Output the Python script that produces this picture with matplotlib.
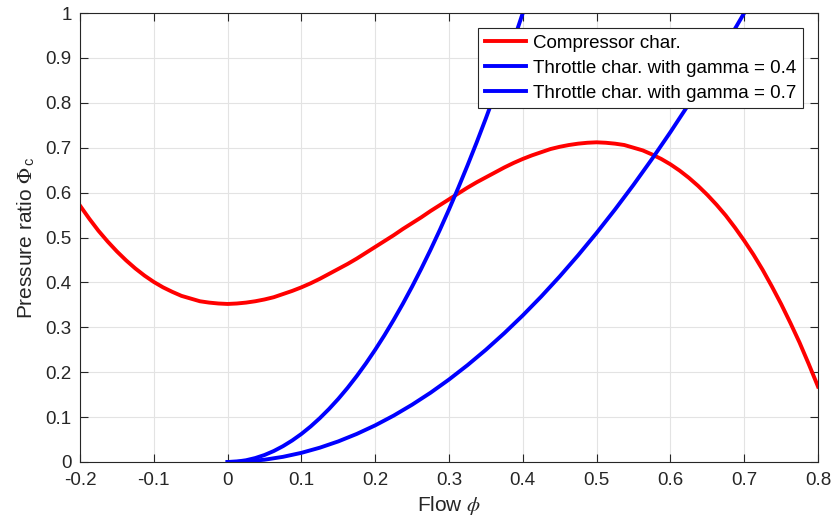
import matplotlib.pyplot as plt

plt.rcParams['font.family'] = ['Liberation Sans', 'DejaVu Sans']
plt.rcParams['mathtext.fontset'] = 'custom'
plt.rcParams['mathtext.rm'] = 'STIXGeneral'
plt.rcParams['mathtext.it'] = 'STIXGeneral:italic'
plt.rcParams['mathtext.bf'] = 'STIXGeneral:bold'
plt.rcParams['mathtext.sf'] = 'Liberation Sans'

# compressor characteristic
flow_c = [-0.2, -0.1875, -0.175, -0.1625, -0.15, -0.1375, -0.125, -0.1125,
          -0.1, -0.0875, -0.075, -0.0625, -0.05, -0.0375, -0.025, -0.0125,
          0.0, 0.0125, 0.025, 0.0375, 0.05, 0.0625, 0.075, 0.0875,
          0.1, 0.1125, 0.125, 0.1375, 0.15, 0.1625, 0.175, 0.1875,
          0.2, 0.2125, 0.225, 0.2375, 0.25, 0.2625, 0.275, 0.2875,
          0.3, 0.3125, 0.325, 0.3375, 0.35, 0.3625, 0.375, 0.3875,
          0.4, 0.4125, 0.425, 0.4375, 0.45, 0.4625, 0.475, 0.4875,
          0.5, 0.5125, 0.525, 0.5375, 0.55, 0.5625, 0.575, 0.5875,
          0.6, 0.6125, 0.625, 0.6375, 0.65, 0.6625, 0.675, 0.6875,
          0.7, 0.7125, 0.725, 0.7375, 0.75, 0.7625, 0.775, 0.7875, 0.8]
psi_c = [0.571, 0.542, 0.515, 0.491, 0.469, 0.449, 0.431, 0.415,
         0.401, 0.389, 0.379, 0.370, 0.364, 0.358, 0.355, 0.353,
         0.352, 0.353, 0.355, 0.358, 0.362, 0.367, 0.374, 0.381,
         0.389, 0.398, 0.408, 0.419, 0.430, 0.441, 0.453, 0.466,
         0.479, 0.492, 0.505, 0.519, 0.532, 0.545, 0.559, 0.572,
         0.585, 0.598, 0.611, 0.623, 0.634, 0.645, 0.656, 0.666,
         0.675, 0.683, 0.690, 0.697, 0.702, 0.706, 0.709, 0.711,
         0.712, 0.711, 0.709, 0.706, 0.700, 0.694, 0.685, 0.675,
         0.663, 0.649, 0.633, 0.615, 0.595, 0.573, 0.549, 0.522,
         0.493, 0.462, 0.428, 0.391, 0.352, 0.310, 0.266, 0.218, 0.168]

# throttle, gamma = 0.4
flow_t1 = [0.0, 0.0125, 0.025, 0.0375, 0.05, 0.0625, 0.075, 0.0875,
           0.1, 0.1125, 0.125, 0.1375, 0.15, 0.1625, 0.175, 0.1875,
           0.2, 0.2125, 0.225, 0.2375, 0.25, 0.2625, 0.275, 0.2875,
           0.3, 0.3125, 0.325, 0.3375, 0.35, 0.3625, 0.375, 0.3875, 0.4]
psi_t1 = [0.0, 0.0010, 0.0039, 0.0088, 0.0156, 0.0244, 0.0352, 0.0479,
          0.0625, 0.0791, 0.0977, 0.1182, 0.1406, 0.1650, 0.1914, 0.2197,
          0.25, 0.2822, 0.3164, 0.3525, 0.3906, 0.4307, 0.4727, 0.5166,
          0.5625, 0.6104, 0.6602, 0.7119, 0.7656, 0.8213, 0.8789, 0.9385, 1.0]

# throttle, gamma = 0.7
flow_t2 = [0.0, 0.025, 0.05, 0.075, 0.1, 0.125, 0.15, 0.175, 0.2, 0.225,
           0.25, 0.275, 0.3, 0.325, 0.35, 0.375, 0.4, 0.425, 0.45, 0.475,
           0.5, 0.525, 0.55, 0.575, 0.6, 0.625, 0.65, 0.675, 0.7]
psi_t2 = [0.0, 0.0013, 0.0051, 0.0115, 0.0204, 0.0319, 0.0459, 0.0625,
          0.0816, 0.1033, 0.1276, 0.1543, 0.1837, 0.2156, 0.25, 0.2870,
          0.3265, 0.3686, 0.4133, 0.4605, 0.5102, 0.5625, 0.6173, 0.6747,
          0.7347, 0.7972, 0.8622, 0.9298, 1.0]

fig = plt.figure(figsize=(8.32, 5.27), dpi=100)
ax = fig.add_axes([80/832, 1 - 462/527, 738/832, 449/527])

ax.plot(flow_c, psi_c, color='#ff0000', lw=2.8, label='Compressor char.')
ax.plot(flow_t1, psi_t1, color='#0000ff', lw=2.8, label='Throttle char. with gamma = 0.4')
ax.plot(flow_t2, psi_t2, color='#0000ff', lw=2.8, label='Throttle char. with gamma = 0.7')

ax.set_xlim(-0.2, 0.8)
ax.set_ylim(0, 1)
ax.set_xticks([-0.2, -0.1, 0, 0.1, 0.2, 0.3, 0.4, 0.5, 0.6, 0.7, 0.8])
ax.set_xticklabels(['-0.2', '-0.1', '0', '0.1', '0.2', '0.3', '0.4', '0.5', '0.6', '0.7', '0.8'])
ax.set_yticks([0, 0.1, 0.2, 0.3, 0.4, 0.5, 0.6, 0.7, 0.8, 0.9, 1])
ax.set_yticklabels(['0', '0.1', '0.2', '0.3', '0.4', '0.5', '0.6', '0.7', '0.8', '0.9', '1'])
ax.grid(True, color='#e3e3e3', lw=0.8)
ax.set_axisbelow(True)
ax.tick_params(direction='in', length=6, labelsize=13.5, colors='#262626',
               top=True, right=True)
ax.tick_params(axis='x', pad=7)
ax.tick_params(axis='y', pad=6)
for s in ax.spines.values():
    s.set_color('#262626')
    s.set_linewidth(0.8)

ax.set_xlabel(r'Flow $\phi$', fontsize=15, color='#262626', labelpad=4)
ax.set_ylabel(r'Pressure ratio $\Phi_{\,\mathsf{c}}$', fontsize=15, color='#262626', labelpad=6)

leg = ax.legend(loc='upper right', bbox_to_anchor=(0.979, 0.967), fontsize=13.5,
                fancybox=False, framealpha=1, edgecolor='#262626',
                handlelength=2.2, handletextpad=0.35, borderpad=0.35,
                labelspacing=0.42, borderaxespad=0)
leg.get_frame().set_linewidth(0.8)

fig.savefig('out.png', dpi=100)
